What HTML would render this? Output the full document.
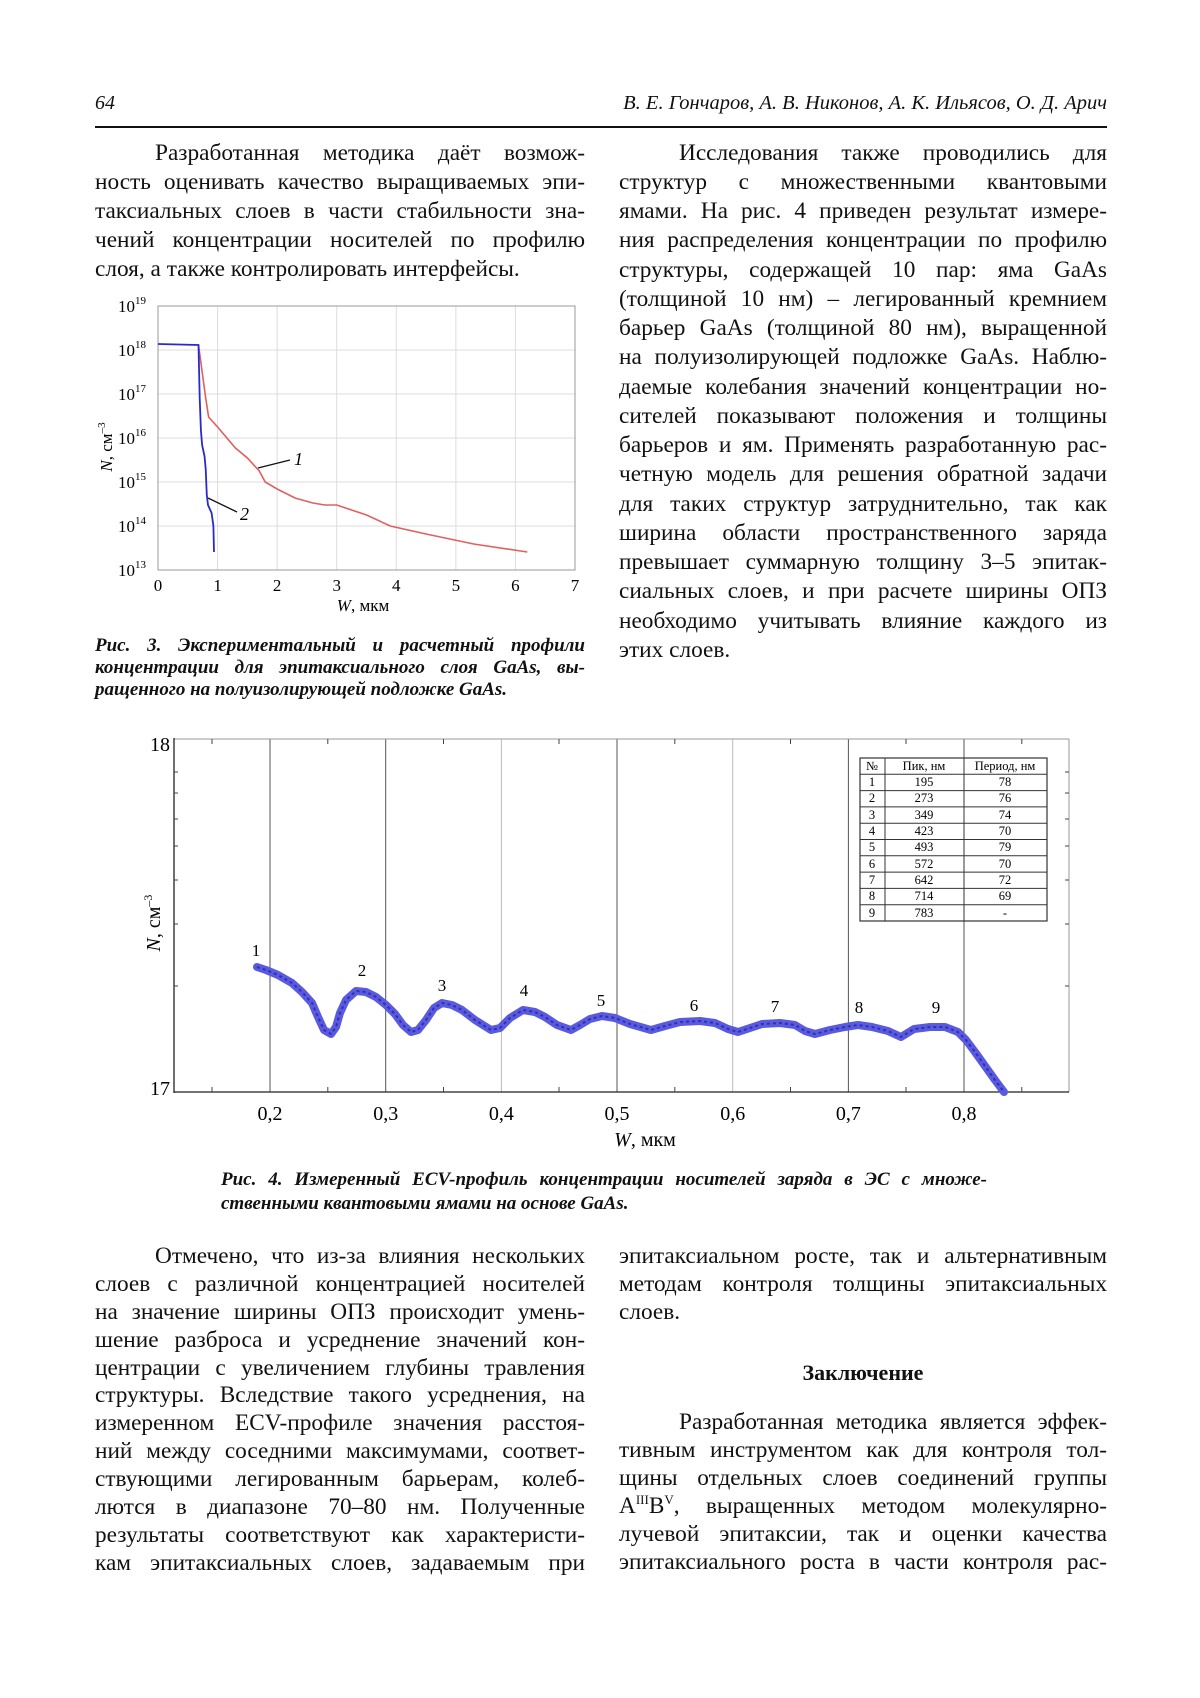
<!DOCTYPE html>
<html><head><meta charset="utf-8">
<style>
body{margin:0;background:#fff;}
#p{position:relative;width:1200px;height:1698px;overflow:hidden;background:#fff;font-family:"Liberation Serif",serif;color:#111;}
.l{position:absolute;font-size:23.3px;line-height:28px;height:28px;text-align:justify;text-align-last:justify;overflow:visible;white-space:normal;}
.l sup{line-height:0;}
.n{text-align-last:left;}
.c{position:absolute;font-size:19px;line-height:22px;height:22px;font-weight:bold;font-style:italic;text-align:justify;text-align-last:justify;}
svg text{font-family:"Liberation Serif",serif;}
</style></head><body><div id="p">
<div style="position:absolute;left:95px;top:92px;font-size:20px;font-style:italic;">64</div>
<div style="position:absolute;right:93px;top:92px;font-size:20.5px;font-style:italic;">В. Е. Гончаров, А. В. Никонов, А. К. Ильясов, О. Д. Арич</div>
<div style="position:absolute;left:95px;top:126px;width:1012px;height:1.5px;background:#111;"></div>

<div class="l" style="left:155px;width:430px;top:139px">Разработанная методика даёт возмож-</div>
<div class="l" style="left:95px;width:490px;top:168px">ность оценивать качество выращиваемых эпи-</div>
<div class="l" style="left:95px;width:490px;top:197px">таксиальных слоев в части стабильности зна-</div>
<div class="l" style="left:95px;width:490px;top:226px">чений концентрации носителей по профилю</div>
<div class="l n" style="left:95px;width:490px;top:255px">слоя, а также контролировать интерфейсы.</div>

<div class="l" style="left:679px;width:428px;top:139px">Исследования также проводились для</div>
<div class="l" style="left:619px;width:488px;top:168px">структур с множественными квантовыми</div>
<div class="l" style="left:619px;width:488px;top:197px">ямами. На рис. 4 приведен результат измере-</div>
<div class="l" style="left:619px;width:488px;top:226px">ния распределения концентрации по профилю</div>
<div class="l" style="left:619px;width:488px;top:256px">структуры, содержащей 10 пар: яма GaAs</div>
<div class="l" style="left:619px;width:488px;top:285px">(толщиной 10 нм) – легированный кремнием</div>
<div class="l" style="left:619px;width:488px;top:314px">барьер GaAs (толщиной 80 нм), выращенной</div>
<div class="l" style="left:619px;width:488px;top:343px">на полуизолирующей подложке GaAs. Наблю-</div>
<div class="l" style="left:619px;width:488px;top:373px">даемые колебания значений концентрации но-</div>
<div class="l" style="left:619px;width:488px;top:402px">сителей показывают положения и толщины</div>
<div class="l" style="left:619px;width:488px;top:431px">барьеров и ям. Применять разработанную рас-</div>
<div class="l" style="left:619px;width:488px;top:460px">четную модель для решения обратной задачи</div>
<div class="l" style="left:619px;width:488px;top:490px">для таких структур затруднительно, так как</div>
<div class="l" style="left:619px;width:488px;top:519px">ширина области пространственного заряда</div>
<div class="l" style="left:619px;width:488px;top:548px">превышает суммарную толщину 3–5 эпитак-</div>
<div class="l" style="left:619px;width:488px;top:577px">сиальных слоев, и при расчете ширины ОПЗ</div>
<div class="l" style="left:619px;width:488px;top:607px">необходимо учитывать влияние каждого из</div>
<div class="l n" style="left:619px;width:488px;top:636px">этих слоев.</div>

<div class="c" style="left:95px;width:490px;top:635px">Рис. 3. Экспериментальный и расчетный профили</div>
<div class="c" style="left:95px;width:490px;top:657px">концентрации для эпитаксиального слоя GaAs, вы-</div>
<div class="c" style="left:95px;width:490px;top:679px;text-align-last:left">ращенного на полуизолирующей подложке GaAs.</div>

<svg width="1200" height="1698" style="position:absolute;left:0;top:0" xmlns="http://www.w3.org/2000/svg">
<g stroke="#ddd" stroke-width="1">
<line x1="217.6" y1="306" x2="217.6" y2="570"/><line x1="277.1" y1="306" x2="277.1" y2="570"/><line x1="336.7" y1="306" x2="336.7" y2="570"/><line x1="396.3" y1="306" x2="396.3" y2="570"/><line x1="455.9" y1="306" x2="455.9" y2="570"/><line x1="515.4" y1="306" x2="515.4" y2="570"/>
<line x1="158" y1="350" x2="575" y2="350"/><line x1="158" y1="394" x2="575" y2="394"/><line x1="158" y1="438" x2="575" y2="438"/><line x1="158" y1="482" x2="575" y2="482"/><line x1="158" y1="526" x2="575" y2="526"/>
</g>
<rect x="158" y="306" width="417" height="264" fill="none" stroke="#999" stroke-width="1"/>
<polyline fill="none" stroke="#e06060" stroke-width="1.6" points="198.5,345 205.7,398 208.6,417 217.6,427 235.4,448 247.4,458 259.3,471 265.2,482 277.1,489 295,498 312.9,503 324.8,505 336.7,505 348.6,509 366.5,515 390.3,526 426,534 473.7,544 527.3,552"/>
<polyline fill="none" stroke="#2a2acc" stroke-width="1.8" points="158,344 198.5,345 199.7,398 200.9,430 202.1,445 204.5,456 205.7,469 206.8,495 208,505 211.6,513 213.4,526 214,552"/>
<line x1="258" y1="468" x2="290" y2="460" stroke="#111" stroke-width="1.3"/>
<line x1="208" y1="498" x2="237" y2="512" stroke="#111" stroke-width="1.3"/>
<text x="294" y="465" font-size="18" font-style="italic">1</text>
<text x="240" y="520" font-size="18" font-style="italic">2</text>
<g font-size="17" text-anchor="end">
<text x="146" y="312">10<tspan font-size="11" dy="-8">19</tspan></text>
<text x="146" y="356">10<tspan font-size="11" dy="-8">18</tspan></text>
<text x="146" y="400">10<tspan font-size="11" dy="-8">17</tspan></text>
<text x="146" y="444">10<tspan font-size="11" dy="-8">16</tspan></text>
<text x="146" y="488">10<tspan font-size="11" dy="-8">15</tspan></text>
<text x="146" y="532">10<tspan font-size="11" dy="-8">14</tspan></text>
<text x="146" y="576">10<tspan font-size="11" dy="-8">13</tspan></text>
</g>
<g font-size="17" text-anchor="middle">
<text x="158" y="591">0</text><text x="217.6" y="591">1</text><text x="277.1" y="591">2</text><text x="336.7" y="591">3</text><text x="396.3" y="591">4</text><text x="455.9" y="591">5</text><text x="515.4" y="591">6</text><text x="575" y="591">7</text>
</g>
<text x="363" y="611" font-size="17" text-anchor="middle"><tspan font-style="italic">W</tspan>, мкм</text>
<text transform="translate(112,447) rotate(-90)" font-size="17" text-anchor="middle"><tspan font-style="italic">N</tspan>, см<tspan font-size="11" dy="-7">–3</tspan></text>

<g stroke="#555" stroke-width="1">
<line x1="270" y1="739" x2="270" y2="1092"/><line x1="385.7" y1="739" x2="385.7" y2="1092"/><line x1="617" y1="739" x2="617" y2="1092"/><line x1="848.4" y1="739" x2="848.4" y2="1092"/><line x1="964" y1="739" x2="964" y2="1092"/>
</g>
<g stroke="#bbb" stroke-width="1"><line x1="501.4" y1="739" x2="501.4" y2="1092"/><line x1="732.7" y1="739" x2="732.7" y2="1092"/></g>
<line x1="174" y1="739" x2="1069" y2="739" stroke="#999"/>
<line x1="1069" y1="739" x2="1069" y2="1092" stroke="#999"/>
<line x1="174" y1="738" x2="174" y2="1093" stroke="#222" stroke-width="1.3"/>
<line x1="174" y1="1092" x2="1069" y2="1092" stroke="#222" stroke-width="1.3"/>
<g stroke="#444" stroke-width="1">
<line x1="212" y1="739" x2="212" y2="744"/><line x1="327.8" y1="739" x2="327.8" y2="744"/><line x1="443.5" y1="739" x2="443.5" y2="744"/><line x1="559" y1="739" x2="559" y2="744"/><line x1="674.8" y1="739" x2="674.8" y2="744"/><line x1="790.5" y1="739" x2="790.5" y2="744"/><line x1="906" y1="739" x2="906" y2="744"/><line x1="1021.8" y1="739" x2="1021.8" y2="744"/>
<line x1="212" y1="1092" x2="212" y2="1087"/><line x1="327.8" y1="1092" x2="327.8" y2="1087"/><line x1="443.5" y1="1092" x2="443.5" y2="1087"/><line x1="559" y1="1092" x2="559" y2="1087"/><line x1="674.8" y1="1092" x2="674.8" y2="1087"/><line x1="790.5" y1="1092" x2="790.5" y2="1087"/><line x1="906" y1="1092" x2="906" y2="1087"/><line x1="1021.8" y1="1092" x2="1021.8" y2="1087"/>
<line x1="174" y1="772" x2="178" y2="772"/><line x1="174" y1="793" x2="178" y2="793"/><line x1="174" y1="819" x2="178" y2="819"/><line x1="174" y1="846" x2="178" y2="846"/><line x1="174" y1="880" x2="178" y2="880"/><line x1="174" y1="924" x2="178" y2="924"/><line x1="174" y1="986" x2="178" y2="986"/>
<line x1="1069" y1="772" x2="1065" y2="772"/><line x1="1069" y1="793" x2="1065" y2="793"/><line x1="1069" y1="819" x2="1065" y2="819"/><line x1="1069" y1="846" x2="1065" y2="846"/><line x1="1069" y1="880" x2="1065" y2="880"/><line x1="1069" y1="924" x2="1065" y2="924"/><line x1="1069" y1="986" x2="1065" y2="986"/>
</g>
<polyline fill="none" stroke="#5a5ae0" stroke-width="8" stroke-linejoin="round" stroke-linecap="round" points="257,967 266,970 278,975 292,983 302,992 312,1003 318,1017 324,1030 331,1034 336,1027 340,1013 346,1000 356,991 366,992 376,997 386,1005 395,1014 403,1025 411,1032 418,1030 426,1020 434,1008 442,1003 452,1005 462,1010 475,1020 491,1030 500,1028 510,1018 523,1010 535,1012 545,1017 557,1025 571,1030 580,1025 590,1019 602,1016 615,1018 630,1024 651,1030 665,1026 680,1022 700,1021 715,1023 728,1029 738,1032 750,1028 762,1024 780,1023 795,1025 805,1031 815,1034 830,1030 845,1027 858,1025 872,1027 888,1031 901,1037 914,1029 930,1027 945,1027 958,1032 966,1040 975,1052 985,1066 995,1080 1004,1092"/>
<polyline fill="none" stroke="#3030b0" stroke-width="2" stroke-dasharray="3 3" stroke-linejoin="round" points="257,967 266,970 278,975 292,983 302,992 312,1003 318,1017 324,1030 331,1034 336,1027 340,1013 346,1000 356,991 366,992 376,997 386,1005 395,1014 403,1025 411,1032 418,1030 426,1020 434,1008 442,1003 452,1005 462,1010 475,1020 491,1030 500,1028 510,1018 523,1010 535,1012 545,1017 557,1025 571,1030 580,1025 590,1019 602,1016 615,1018 630,1024 651,1030 665,1026 680,1022 700,1021 715,1023 728,1029 738,1032 750,1028 762,1024 780,1023 795,1025 805,1031 815,1034 830,1030 845,1027 858,1025 872,1027 888,1031 901,1037 914,1029 930,1027 945,1027 958,1032 966,1040 975,1052 985,1066 995,1080 1004,1092"/>
<g font-size="17" text-anchor="middle">
<text x="256" y="956">1</text><text x="362" y="976">2</text><text x="442" y="991">3</text><text x="524" y="996">4</text><text x="601" y="1006">5</text><text x="694" y="1011">6</text><text x="775" y="1012">7</text><text x="859" y="1013">8</text><text x="936" y="1013">9</text>
</g>
<g font-size="20" text-anchor="middle">
<text x="270" y="1120">0,2</text><text x="385.7" y="1120">0,3</text><text x="501.4" y="1120">0,4</text><text x="617" y="1120">0,5</text><text x="732.7" y="1120">0,6</text><text x="848.4" y="1120">0,7</text><text x="964" y="1120">0,8</text>
</g>
<text x="170" y="751" font-size="20" text-anchor="end">18</text>
<text x="170" y="1095" font-size="20" text-anchor="end">17</text>
<text x="645" y="1146" font-size="20" text-anchor="middle"><tspan font-style="italic">W</tspan>, мкм</text>
<text transform="translate(160,923) rotate(-90)" font-size="20" text-anchor="middle"><tspan font-style="italic">N</tspan>, см<tspan font-size="12" dy="-8">–3</tspan></text>
<rect x="860" y="758" width="187" height="163" fill="#fff" stroke="#333" stroke-width="1.2"/>
<g stroke="#333" stroke-width="1">
<line x1="885" y1="758" x2="885" y2="921"/><line x1="964" y1="758" x2="964" y2="921"/>
<line x1="860" y1="774.3" x2="1047" y2="774.3"/><line x1="860" y1="790.6" x2="1047" y2="790.6"/><line x1="860" y1="806.9" x2="1047" y2="806.9"/><line x1="860" y1="823.2" x2="1047" y2="823.2"/><line x1="860" y1="839.5" x2="1047" y2="839.5"/><line x1="860" y1="855.8" x2="1047" y2="855.8"/><line x1="860" y1="872.1" x2="1047" y2="872.1"/><line x1="860" y1="888.4" x2="1047" y2="888.4"/><line x1="860" y1="904.7" x2="1047" y2="904.7"/>
</g>
<g font-size="12.5" text-anchor="middle">
<text x="872" y="770">№</text><text x="924" y="770">Пик, нм</text><text x="1005" y="770">Период, нм</text>
<text x="872" y="786">1</text><text x="924" y="786">195</text><text x="1005" y="786">78</text>
<text x="872" y="802">2</text><text x="924" y="802">273</text><text x="1005" y="802">76</text>
<text x="872" y="819">3</text><text x="924" y="819">349</text><text x="1005" y="819">74</text>
<text x="872" y="835">4</text><text x="924" y="835">423</text><text x="1005" y="835">70</text>
<text x="872" y="851">5</text><text x="924" y="851">493</text><text x="1005" y="851">79</text>
<text x="872" y="868">6</text><text x="924" y="868">572</text><text x="1005" y="868">70</text>
<text x="872" y="884">7</text><text x="924" y="884">642</text><text x="1005" y="884">72</text>
<text x="872" y="900">8</text><text x="924" y="900">714</text><text x="1005" y="900">69</text>
<text x="872" y="917">9</text><text x="924" y="917">783</text><text x="1005" y="917">-</text>
</g>
</svg>

<div class="c" style="left:221px;width:766px;top:1169px">Рис. 4. Измеренный ECV-профиль концентрации носителей заряда в ЭС с множе-</div>
<div class="c" style="left:221px;width:766px;top:1193px;text-align-last:left">ственными квантовыми ямами на основе GaAs.</div>

<div class="l" style="left:155px;width:430px;top:1242px">Отмечено, что из-за влияния нескольких</div>
<div class="l" style="left:95px;width:490px;top:1270px">слоев с различной концентрацией носителей</div>
<div class="l" style="left:95px;width:490px;top:1298px">на значение ширины ОПЗ происходит умень-</div>
<div class="l" style="left:95px;width:490px;top:1326px">шение разброса и усреднение значений кон-</div>
<div class="l" style="left:95px;width:490px;top:1354px">центрации с увеличением глубины травления</div>
<div class="l" style="left:95px;width:490px;top:1381px">структуры. Вследствие такого усреднения, на</div>
<div class="l" style="left:95px;width:490px;top:1409px">измеренном ECV-профиле значения расстоя-</div>
<div class="l" style="left:95px;width:490px;top:1437px">ний между соседними максимумами, соответ-</div>
<div class="l" style="left:95px;width:490px;top:1465px">ствующими легированным барьерам, колеб-</div>
<div class="l" style="left:95px;width:490px;top:1493px">лются в диапазоне 70–80 нм. Полученные</div>
<div class="l" style="left:95px;width:490px;top:1521px">результаты соответствуют как характеристи-</div>
<div class="l" style="left:95px;width:490px;top:1549px">кам эпитаксиальных слоев, задаваемым при</div>

<div class="l" style="left:619px;width:488px;top:1242px">эпитаксиальном росте, так и альтернативным</div>
<div class="l" style="left:619px;width:488px;top:1270px">методам контроля толщины эпитаксиальных</div>
<div class="l n" style="left:619px;width:488px;top:1298px">слоев.</div>
<div style="position:absolute;left:619px;width:488px;top:1359px;font-size:22px;line-height:28px;font-weight:bold;text-align:center;">Заключение</div>
<div class="l" style="left:679px;width:428px;top:1408px">Разработанная методика является эффек-</div>
<div class="l" style="left:619px;width:488px;top:1436px">тивным инструментом как для контроля тол-</div>
<div class="l" style="left:619px;width:488px;top:1464px">щины отдельных слоев соединений группы</div>
<div class="l" style="left:619px;width:488px;top:1492px">A<sup style="font-size:13px">III</sup>B<sup style="font-size:13px">V</sup>, выращенных методом молекулярно-</div>
<div class="l" style="left:619px;width:488px;top:1520px">лучевой эпитаксии, так и оценки качества</div>
<div class="l" style="left:619px;width:488px;top:1548px">эпитаксиального роста в части контроля рас-</div>
</div></body></html>
